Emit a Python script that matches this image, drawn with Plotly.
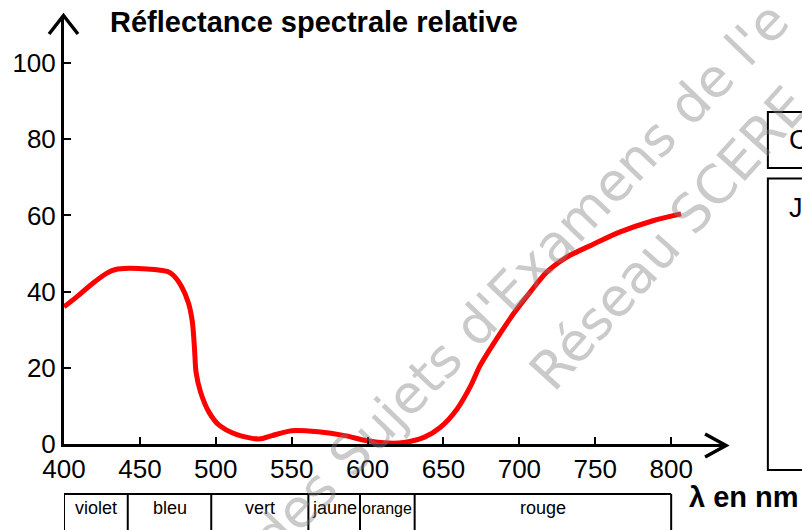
import plotly.graph_objects as go

# ---------------- data ----------------
wavelength_nm = [400, 408, 419, 428, 434, 443, 452, 460, 468, 472, 477.5, 482, 484.6,
                 486, 487, 490, 495.6, 502, 513, 528.5, 537, 550, 567.5, 585, 598,
                 611, 624, 637.5, 648, 659, 668, 674, 685, 696, 707, 718, 731, 749,
                 766, 788, 806.5]
reflectance = [36.0, 38.5, 42.2, 44.8, 45.8, 46.1, 46.0, 45.8, 45.3, 44.3, 41.3, 37.0, 31.9,
               24.9, 18.8, 13.6, 8.3, 5.0, 2.6, 1.3, 2.2, 3.5, 3.2, 2.2, 1.0,
               0.3, 0.4, 1.8, 4.4, 9.2, 15.3, 20.5, 27.6, 34.1, 39.8, 45.1, 49.0, 52.5,
               55.6, 58.6, 60.4]

x_tick_vals = [400, 450, 500, 550, 600, 650, 700, 750, 800]
y_tick_vals = [0, 20, 40, 60, 80, 100]

band_edges = [400, 442, 497, 561, 595, 631, 800]
band_labels = ["violet", "bleu", "vert", "jaune", "orange", "rouge"]

title_text = "Réflectance spectrale relative"
x_label_text = "λ en nm"
box_labels = ["C", "J"]
watermark_lines = ["des Sujets d'Examens de l'e", "Réseau SCERE"]

# ---------------- geometry ----------------
W, H = 802, 530
L, R_EDGE = 62, 726
T, B_EDGE = 16, 444
PW, PH = R_EDGE - L, B_EDGE - T
X_MAX = 400 + PW / 1.5225
Y_MAX = PH / 3.81


def px(xp):
    return (xp - L) / PW


def py(yp):
    return (B_EDGE - yp) / PH


FONT = "Liberation Sans, Arial, sans-serif"
WM_FONT = "DejaVu Sans, sans-serif"
WM_COLOR = "rgba(128,128,128,0.42)"

fig = go.Figure()
fig.add_trace(go.Scatter(
    x=wavelength_nm, y=reflectance, mode="lines",
    line=dict(color="#ff0000", width=5, shape="spline", smoothing=0.8),
    hoverinfo="skip", showlegend=False, cliponaxis=False,
))

shapes = []
annotations = []

# arrowheads (open chevrons)
shapes.append(dict(type="path", xref="paper", yref="paper",
                   path=f"M {px(47)} {py(34)} L {px(61.5)} {py(15.5)} L {px(76)} {py(34)}",
                   line=dict(color="black", width=3.5)))
shapes.append(dict(type="path", xref="paper", yref="paper",
                   path=f"M {px(705)} {py(434)} L {px(726)} {py(445.5)} L {px(705)} {py(457)}",
                   line=dict(color="black", width=3.5)))

# colour band table
shapes.append(dict(type="line", xref="x", yref="paper",
                   x0=band_edges[0], x1=band_edges[-1], y0=py(494), y1=py(494),
                   line=dict(color="black", width=2)))
for e in band_edges:
    shapes.append(dict(type="line", xref="x", yref="paper",
                       x0=e, x1=e, y0=py(494), y1=py(545),
                       line=dict(color="black", width=2)))
for i, lab in enumerate(band_labels):
    annotations.append(dict(
        x=(band_edges[i] + band_edges[i + 1]) / 2, y=py(508), xref="x", yref="paper",
        text=lab, showarrow=False, xanchor="center", yanchor="middle",
        font=dict(family=FONT, size=16 if lab == "orange" else 18, color="black")))

# right-side boxes
shapes.append(dict(type="rect", xref="paper", yref="paper",
                   x0=px(768), x1=px(840), y0=py(112), y1=py(168),
                   line=dict(color="black", width=2)))
shapes.append(dict(type="rect", xref="paper", yref="paper",
                   x0=px(768), x1=px(840), y0=py(178.5), y1=py(470),
                   line=dict(color="black", width=2)))
annotations.append(dict(x=px(787), y=py(140), xref="paper", yref="paper", text=box_labels[0],
                        showarrow=False, xanchor="left", yanchor="middle",
                        font=dict(family=FONT, size=27, color="black")))
annotations.append(dict(x=px(787), y=py(208), xref="paper", yref="paper", text=box_labels[1],
                        showarrow=False, xanchor="left", yanchor="middle",
                        font=dict(family=FONT, size=27, color="black")))

# titles
annotations.append(dict(x=px(106), y=py(22), xref="paper", yref="paper",
                        text=f"<b>{title_text}</b>", showarrow=False,
                        xanchor="left", yanchor="middle",
                        font=dict(family=FONT, size=29, color="black")))
annotations.append(dict(x=px(687), y=py(497), xref="paper", yref="paper",
                        text=f"<b>{x_label_text}</b>", showarrow=False,
                        xanchor="left", yanchor="middle",
                        font=dict(family=FONT, size=29, color="black")))

# watermark
annotations.append(dict(x=px(520), y=py(279), xref="paper", yref="paper",
                        text=watermark_lines[0], showarrow=False, textangle=-46,
                        xanchor="center", yanchor="middle",
                        font=dict(family=WM_FONT, size=53, color=WM_COLOR)))
annotations.append(dict(x=px(668), y=py(238), xref="paper", yref="paper",
                        text=watermark_lines[1], showarrow=False, textangle=-48,
                        xanchor="center", yanchor="middle",
                        font=dict(family=WM_FONT, size=53, color=WM_COLOR)))

fig.update_layout(
    width=W, height=H,
    margin=dict(l=L, r=W - R_EDGE, t=T, b=H - B_EDGE, pad=0),
    paper_bgcolor="white", plot_bgcolor="white",
    showlegend=False,
    shapes=shapes, annotations=annotations,
    xaxis=dict(range=[400, X_MAX], tickvals=x_tick_vals, showgrid=False, zeroline=False,
               showline=True, linecolor="black", linewidth=3,
               ticks="inside", ticklen=7, tickwidth=2, tickcolor="black",
               tickfont=dict(family=FONT, size=26, color="black")),
    yaxis=dict(range=[0, Y_MAX], tickvals=y_tick_vals, showgrid=False, zeroline=False,
               showline=True, linecolor="black", linewidth=3,
               ticks="inside", ticklen=7, tickwidth=2, tickcolor="black",
               tickfont=dict(family=FONT, size=26, color="black")),
)

fig.write_html("out.html")
